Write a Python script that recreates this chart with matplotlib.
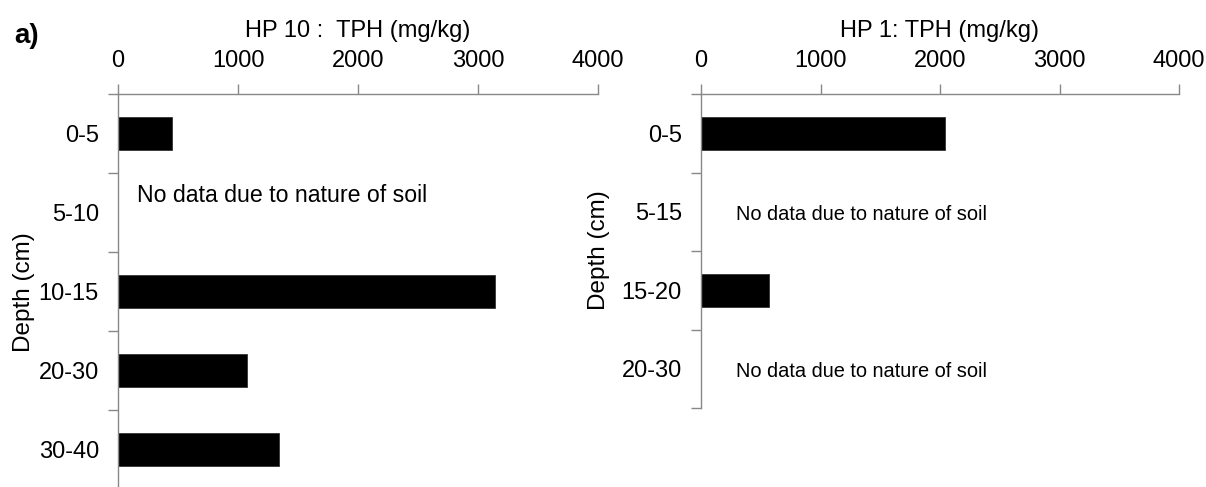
import numpy as np
import matplotlib
matplotlib.use("Agg")
import matplotlib.pyplot as plt
from matplotlib.ticker import FixedLocator

plt.rcParams['font.family'] = ['Liberation Sans', 'DejaVu Sans']

# ---- data ----
left_title = "HP 10 :  TPH (mg/kg)"
left_depths = ["0-5", "5-10", "10-15", "20-30", "30-40"]
left_tph = [450, np.nan, 3140, 1075, 1345]

right_title = "HP 1: TPH (mg/kg)"
right_depths = ["0-5", "5-15", "15-20", "20-30"]
right_tph = [2040, np.nan, 570, np.nan]

xticks = [0, 1000, 2000, 3000, 4000]
no_data_text = "No data due to nature of soil"
ylabel = "Depth (cm)"

W, H = 1206, 487
fig = plt.figure(figsize=(W / 100, H / 100), dpi=100)

spine_col = "#888888"
FS = 17


def style_axis(ax, cats, vals, title):
    n = len(cats)
    y = np.arange(n)
    ax.barh(y, np.nan_to_num(vals), height=0.42, color="black",
            edgecolor="#333333", linewidth=0.6)
    ax.set_xlim(0, 4000)
    ax.set_ylim(n - 0.5, -0.5)
    ax.xaxis.tick_top()
    ax.set_xticks(xticks)
    ax.set_xticklabels([str(t) for t in xticks], fontsize=FS)
    ax.tick_params(axis="x", direction="out", length=7, width=1,
                   color=spine_col, pad=9)
    # y ticks at category boundaries, labels at centers
    ax.yaxis.set_major_locator(FixedLocator(np.arange(n + 1) - 0.5))
    ax.yaxis.set_major_formatter(plt.NullFormatter())
    ax.yaxis.set_minor_locator(FixedLocator(y))
    ax.set_yticklabels(cats, minor=True, fontsize=FS)
    ax.tick_params(axis="y", which="major", direction="out", length=7,
                   width=1, color=spine_col)
    ax.tick_params(axis="y", which="minor", length=0, pad=13.7)
    for s in ["right", "bottom"]:
        ax.spines[s].set_visible(False)
    for s in ["left", "top"]:
        ax.spines[s].set_color(spine_col)
        ax.spines[s].set_linewidth(1)
    ax.set_title(title, fontsize=FS, pad=9)
    ax.set_facecolor("none")
    return y


axL = fig.add_axes([118 / W, 1 - 489 / H, 480 / W, 395 / H])
style_axis(axL, left_depths, left_tph, left_title)
for i, v in enumerate(left_tph):
    if np.isnan(v):
        axL.text(158, i - 0.22, no_data_text, fontsize=16.7, va="center",
                 ha="left")

axR = fig.add_axes([701 / W, 1 - 408 / H, 478 / W, 314 / H])
style_axis(axR, right_depths, right_tph, right_title)
for i, v in enumerate(right_tph):
    if np.isnan(v):
        axR.text(290, i + 0.03, no_data_text, fontsize=14.4, va="center",
                 ha="left")

fig.text(24 / W, 1 - 292 / H, ylabel, fontsize=17.5, rotation=90,
         ha="center", va="center")
fig.text(599 / W, 1 - 250 / H, ylabel, fontsize=17.5, rotation=90,
         ha="center", va="center")

fig.text(14 / W, 1 - 36 / H, "a)", fontsize=20, fontweight="bold",
         va="center", ha="left")

fig.savefig("out.png", dpi=100)
